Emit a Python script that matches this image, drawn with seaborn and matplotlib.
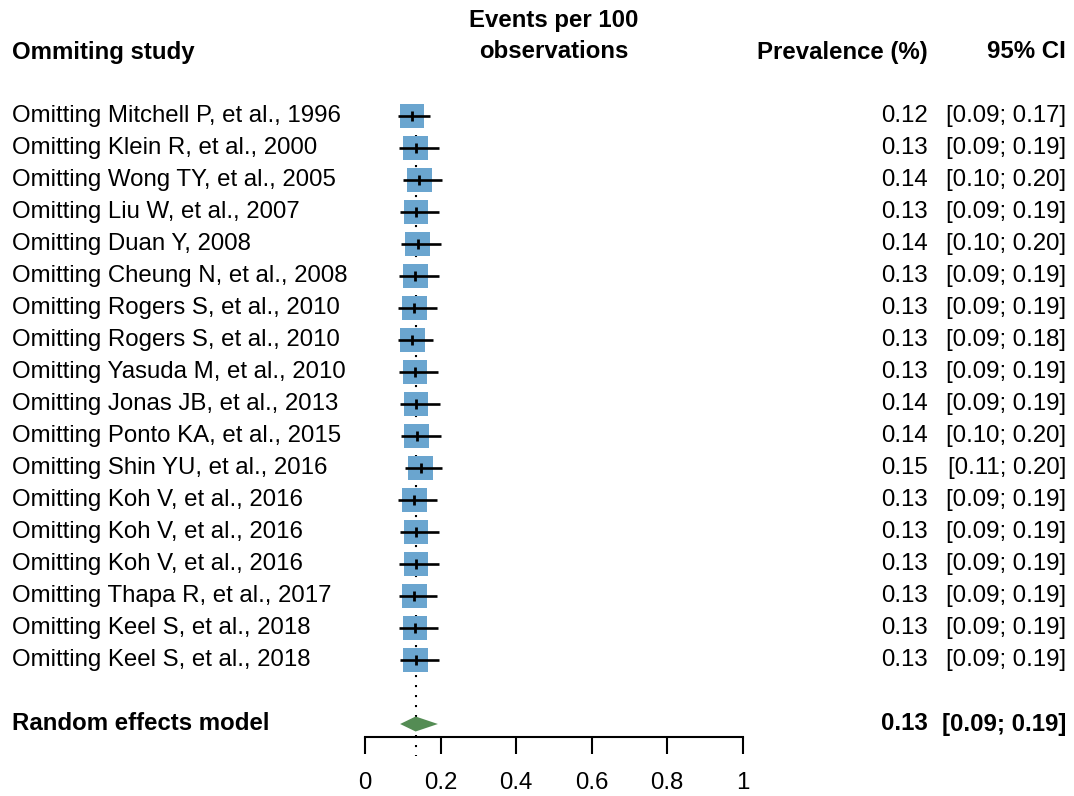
import matplotlib
matplotlib.use("Agg")
import matplotlib.pyplot as plt
import matplotlib.transforms as mtrans
import seaborn as sns
import pandas as pd
import numpy as np

studies = [
    "Omitting Mitchell P, et al., 1996",
    "Omitting Klein R, et al., 2000",
    "Omitting Wong TY, et al., 2005",
    "Omitting Liu W, et al., 2007",
    "Omitting Duan Y, 2008",
    "Omitting Cheung N, et al., 2008",
    "Omitting Rogers S, et al., 2010",
    "Omitting Rogers S, et al., 2010",
    "Omitting Yasuda M, et al., 2010",
    "Omitting Jonas JB, et al., 2013",
    "Omitting Ponto KA, et al., 2015",
    "Omitting Shin YU, et al., 2016",
    "Omitting Koh V, et al., 2016",
    "Omitting Koh V, et al., 2016",
    "Omitting Koh V, et al., 2016",
    "Omitting Thapa R, et al., 2017",
    "Omitting Keel S, et al., 2018",
    "Omitting Keel S, et al., 2018",
]
est = [0.124, 0.134, 0.144, 0.135, 0.139, 0.133, 0.131, 0.125, 0.132, 0.135,
       0.137, 0.147, 0.131, 0.135, 0.135, 0.131, 0.132, 0.134]
lower = [0.087, 0.091, 0.101, 0.093, 0.095, 0.091, 0.088, 0.087, 0.091, 0.093,
         0.094, 0.107, 0.088, 0.093, 0.091, 0.089, 0.090, 0.093]
upper = [0.172, 0.195, 0.205, 0.197, 0.200, 0.195, 0.191, 0.179, 0.192, 0.198,
         0.201, 0.205, 0.191, 0.196, 0.196, 0.191, 0.193, 0.196]
prev_labels = ["0.12", "0.13", "0.14", "0.13", "0.14", "0.13", "0.13", "0.13", "0.13",
               "0.14", "0.14", "0.15", "0.13", "0.13", "0.13", "0.13", "0.13", "0.13"]
ci_labels = ["[0.09; 0.17]", "[0.09; 0.19]", "[0.10; 0.20]", "[0.09; 0.19]", "[0.10; 0.20]",
             "[0.09; 0.19]", "[0.09; 0.19]", "[0.09; 0.18]", "[0.09; 0.19]", "[0.09; 0.19]",
             "[0.10; 0.20]", "[0.11; 0.20]", "[0.09; 0.19]", "[0.09; 0.19]", "[0.09; 0.19]",
             "[0.09; 0.19]", "[0.09; 0.19]", "[0.09; 0.19]"]
re_est, re_lower, re_upper = 0.134, 0.093, 0.193
re_label, re_ci = "0.13", "[0.09; 0.19]"
xticks = [0, 0.2, 0.4, 0.6, 0.8, 1]
xtick_labels = ["0", "0.2", "0.4", "0.6", "0.8", "1"]

sns.set_style("white")
plt.rcParams["font.family"] = ["Liberation Sans", "DejaVu Sans"]
plt.rcParams["text.color"] = "black"
plt.rcParams["xtick.color"] = "black"

W, H = 1074, 796
fig = plt.figure(figsize=(W / 100, H / 100), dpi=100)
x0, x1 = 365, 742.7
top_px, bot_px = 100, 737
ax = fig.add_axes([x0 / W, 1 - bot_px / H, (x1 - x0) / W, (bot_px - top_px) / H])

row_px = 32.0
first_px = 116.0
ax.set_xlim(0, 1)
ax.set_ylim((bot_px - first_px) / row_px, (top_px - first_px) / row_px)

df = pd.DataFrame({"study": studies, "est": est, "lower": lower, "upper": upper,
                   "row": np.arange(len(studies))})
re_row = 19

# reference dotted line at pooled estimate
ax.plot([re_est, re_est], [-0.35, 20.0], color="black", lw=1.5,
        linestyle=(0, (1, 3.8)), clip_on=False, zorder=1)

# boxes
sns.scatterplot(data=df, x="est", y="row", marker="s", s=315, color="#6aa5cf",
                edgecolor="none", ax=ax, zorder=2, legend=False)
# CI lines
ax.hlines(df["row"], df["lower"], df["upper"], color="black", lw=1.9, zorder=3)
# estimate ticks
ax.scatter(df["est"], df["row"], marker="|", s=55, color="black", linewidths=2.0, zorder=4)

# diamond
h = 7.5 / row_px
ax.fill([re_lower, re_est, re_upper, re_est], [re_row, re_row - h, re_row, re_row + h],
        color="#548c54", lw=0, zorder=3)

# axis styling
for s in ["top", "left", "right"]:
    ax.spines[s].set_visible(False)
ax.spines["bottom"].set_linewidth(1.5)
ax.spines["bottom"].set_color("black")
ax.set_xticks(xticks)
ax.set_xticklabels(xtick_labels, fontsize=17.3)
ax.tick_params(axis="x", direction="out", length=12.5, width=1.5, color="black", pad=13,
               bottom=True, labelcolor="black")
ax.set_yticks([])
ax.set_xlabel("")
ax.set_ylabel("")

fs = 17.3
trans = mtrans.blended_transform_factory(fig.transFigure, ax.transData)
for i, name in enumerate(studies):
    fig.text(12 / W, i, name, transform=trans, ha="left", va="center", fontsize=fs)
    fig.text(928 / W, i, prev_labels[i], transform=trans, ha="right", va="center", fontsize=fs)
    fig.text(1066 / W, i, ci_labels[i], transform=trans, ha="right", va="center", fontsize=fs)

fig.text(12 / W, re_row, "Random effects model", transform=trans, ha="left", va="center",
         fontsize=fs, fontweight="bold")
fig.text(928 / W, re_row, re_label, transform=trans, ha="right", va="center",
         fontsize=fs, fontweight="bold")
fig.text(1066 / W, re_row, re_ci, transform=trans, ha="right", va="center",
         fontsize=fs, fontweight="bold")

# headers
fig.text(12 / W, 1 - 52 / H, "Ommiting study", ha="left", va="center", fontsize=fs, fontweight="bold")
fig.text(554 / W, 1 - 20 / H, "Events per 100", ha="center", va="center", fontsize=fs, fontweight="bold")
fig.text(554 / W, 1 - 52 / H, "observations", ha="center", va="center", fontsize=fs, fontweight="bold")
fig.text(928 / W, 1 - 52 / H, "Prevalence (%)", ha="right", va="center", fontsize=fs, fontweight="bold")
fig.text(1066 / W, 1 - 52 / H, "95% CI", ha="right", va="center", fontsize=fs, fontweight="bold")

fig.savefig("out.png", dpi=100, facecolor="white")
